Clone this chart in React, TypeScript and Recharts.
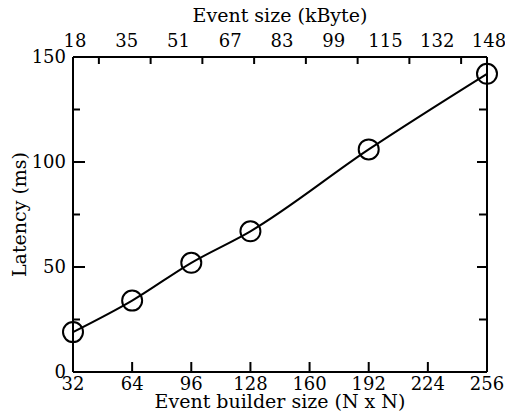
import { LineChart, Line, XAxis, YAxis, Label } from 'recharts';

const builderSize = [32, 64, 96, 128, 192, 256];
const latencyMs = [19, 34, 52, 67, 106, 142];
const builderTicks = [32, 64, 96, 128, 160, 192, 224, 256];
const eventSizeLabels = ['18', '35', '51', '67', '83', '99', '115', '132', '148'];
const latencyTicks = [0, 25, 50, 75, 100, 125, 150];
const latencyLabels = [0, 50, 100, 150];

const data = builderSize.map((n, i) => ({ n, latency: latencyMs[i] }));

// the kByte labels are spread evenly over the same 32..256 range, tick marks sit halfway between them
const xMin = builderTicks[0];
const xMax = builderTicks[builderTicks.length - 1];
const eventStep = (xMax - xMin) / (eventSizeLabels.length - 1);
const eventSizeTicks = eventSizeLabels.flatMap((_, i) =>
  i < eventSizeLabels.length - 1 ? [xMin + i * eventStep, xMin + (i + 0.5) * eventStep] : [xMin + i * eventStep]
);

const FONT = 'DejaVu Serif';
const INK = '#000';
const txt = { fontFamily: FONT, fontSize: 18, fill: INK };

function BottomTick({ x, y, payload }: any) {
  return (
    <g>
      <line x1={x} y1={y} x2={x} y2={y - 10} stroke={INK} strokeWidth={2} />
      <text x={x} y={y + 18} textAnchor="middle" style={txt}>{payload.value}</text>
    </g>
  );
}

function TopTick({ x, y, payload }: any) {
  const idx = (payload.value - xMin) / eventStep;
  const rounded = Math.round(idx);
  if (Math.abs(idx - rounded) < 1e-6) {
    return (
      <text x={x + 2} y={y - 10} textAnchor="middle" style={txt}>{eventSizeLabels[rounded]}</text>
    );
  }
  return <line x1={x} y1={y} x2={x} y2={y + 7} stroke={INK} strokeWidth={2} />;
}

function LeftTick({ x, y, payload }: any) {
  const major = latencyLabels.includes(payload.value);
  return (
    <g>
      <line x1={x} y1={y} x2={x + (major ? 12 : 7)} y2={y} stroke={INK} strokeWidth={2} />
      {major && (
        <text x={x - 7} y={y + 6} textAnchor="end" style={txt}>{payload.value}</text>
      )}
    </g>
  );
}

function RightTick({ x, y, payload }: any) {
  const major = latencyLabels.includes(payload.value);
  return <line x1={x} y1={y} x2={x - (major ? 10 : 8)} y2={y} stroke={INK} strokeWidth={2} />;
}

export default function App() {
  return (
    <div style={{ fontFamily: FONT }}>
      <style>{'body{margin:0;background:#fff}'}</style>
      <LineChart width={505} height={416} data={data} margin={{ top: 0, right: 17, bottom: 0, left: 0 }}>
        <XAxis
          xAxisId="bottom"
          dataKey="n"
          type="number"
          domain={[xMin, xMax]}
          ticks={builderTicks}
          interval={0}
          height={44}
          tickSize={0}
          tickMargin={0}
          tickLine={false}
          axisLine={{ stroke: INK, strokeWidth: 2 }}
          tick={<BottomTick />}
        >
          <Label value="Event builder size (N x N)" position="insideBottom" offset={8} style={{ fontFamily: FONT, fontSize: 19, fill: INK }} />
        </XAxis>
        <XAxis
          xAxisId="top"
          orientation="top"
          dataKey="n"
          type="number"
          domain={[xMin, xMax]}
          allowDataOverflow
          ticks={eventSizeTicks}
          interval={0}
          height={57}
          tickSize={0}
          tickMargin={0}
          tickLine={false}
          axisLine={{ stroke: INK, strokeWidth: 2 }}
          tick={<TopTick />}
        >
          <Label value="Event size (kByte)" position="insideTop" offset={9} style={{ fontFamily: FONT, fontSize: 19, fill: INK }} />
        </XAxis>
        <YAxis
          yAxisId="left"
          type="number"
          domain={[0, 150]}
          ticks={latencyTicks}
          interval={0}
          width={73}
          tickSize={0}
          tickMargin={0}
          tickLine={false}
          axisLine={{ stroke: INK, strokeWidth: 2 }}
          tick={<LeftTick />}
        >
          <Label value="Latency (ms)" angle={-90} position="insideLeft" offset={19} style={{ fontFamily: FONT, fontSize: 19, fill: INK, textAnchor: 'middle' }} />
        </YAxis>
        <YAxis
          yAxisId="right"
          orientation="right"
          dataKey="latency"
          type="number"
          domain={[0, 150]}
          allowDataOverflow
          ticks={latencyTicks.slice(1, -1)}
          interval={0}
          width={1}
          tickSize={0}
          tickMargin={0}
          tickLine={false}
          axisLine={{ stroke: INK, strokeWidth: 2 }}
          tick={<RightTick />}
        />
        <Line
          xAxisId="bottom"
          yAxisId="left"
          type="monotone"
          dataKey="latency"
          stroke={INK}
          strokeWidth={2}
          dot={{ r: 10, fill: 'none', stroke: INK, strokeWidth: 2 }}
          isAnimationActive={false}
        />
      </LineChart>
    </div>
  );
}
